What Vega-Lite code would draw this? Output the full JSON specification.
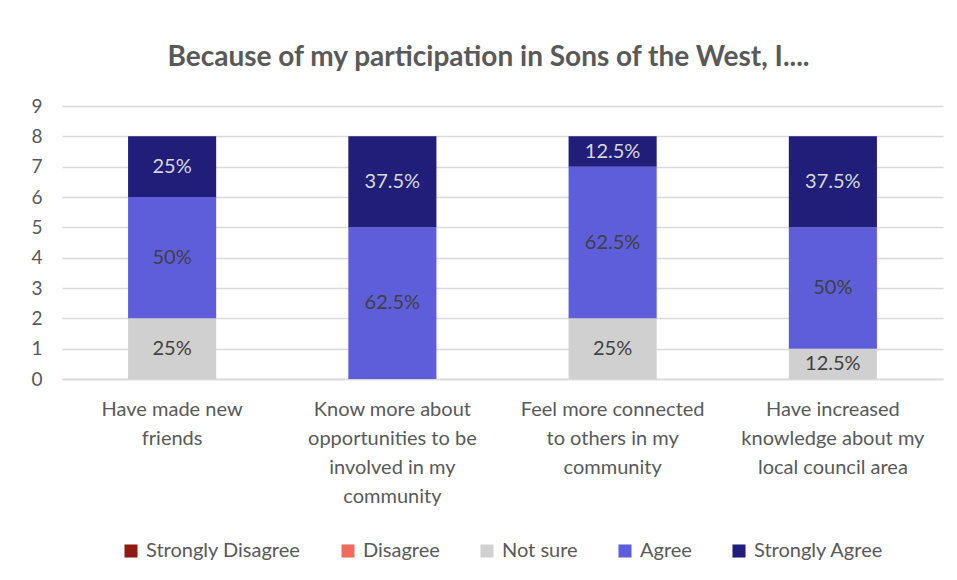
{
  "$schema": "https://vega.github.io/schema/vega-lite/v6.json",
  "autosize": {"type": "none"},
  "width": 881,
  "height": 273,
  "padding": {"left": 62, "top": 106, "right": 14, "bottom": 201},
  "background": "white",
  "title": {
    "text": "Because of my participation in Sons of the West, I....",
    "font": "Lato",
    "fontSize": 28,
    "fontWeight": "bold",
    "color": "#595959",
    "anchor": "middle",
    "dx": -14,
    "offset": 25
  },
  "config": {
    "font": "Lato",
    "view": {"stroke": null},
    "legend": {"layout": {"bottom": {"anchor": "middle"}}},
    "axisY": {
      "title": null,
      "values": [0, 1, 2, 3, 4, 5, 6, 7, 8, 9],
      "labelOverlap": false,
      "labelFontSize": 19,
      "labelColor": "#595959",
      "labelPadding": 20,
      "ticks": false,
      "domain": false,
      "gridColor": "#D9D9D9",
      "gridWidth": 1.5
    }
  },
  "data": {
    "values": [
      {"statement": "Have made new friends", "response": "Not sure", "order": 3, "count": 2, "label": "25%"},
      {"statement": "Have made new friends", "response": "Agree", "order": 4, "count": 4, "label": "50%"},
      {"statement": "Have made new friends", "response": "Strongly Agree", "order": 5, "count": 2, "label": "25%"},
      {"statement": "Know more about opportunities to be involved in my community", "response": "Agree", "order": 4, "count": 5, "label": "62.5%"},
      {"statement": "Know more about opportunities to be involved in my community", "response": "Strongly Agree", "order": 5, "count": 3, "label": "37.5%"},
      {"statement": "Feel more connected to others in my community", "response": "Not sure", "order": 3, "count": 2, "label": "25%"},
      {"statement": "Feel more connected to others in my community", "response": "Agree", "order": 4, "count": 5, "label": "62.5%"},
      {"statement": "Feel more connected to others in my community", "response": "Strongly Agree", "order": 5, "count": 1, "label": "12.5%"},
      {"statement": "Have increased knowledge about my local council area", "response": "Not sure", "order": 3, "count": 1, "label": "12.5%"},
      {"statement": "Have increased knowledge about my local council area", "response": "Agree", "order": 4, "count": 4, "label": "50%"},
      {"statement": "Have increased knowledge about my local council area", "response": "Strongly Agree", "order": 5, "count": 3, "label": "37.5%"}
    ]
  },
  "transform": [
    {"stack": "count", "groupby": ["statement"], "sort": [{"field": "order", "order": "ascending"}], "as": ["y0", "y1"]},
    {"calculate": "(datum.y0 + datum.y1) / 2", "as": "ymid"}
  ],
  "encoding": {
    "x": {
      "field": "statement",
      "type": "nominal",
      "sort": null,
      "scale": {"paddingInner": 0.6, "paddingOuter": 0.3},
      "axis": {
        "title": null,
        "labelAngle": 0,
        "labelFontSize": 20,
        "labelLimit": 300,
        "labelColor": "#595959",
        "labelLineHeight": 29,
        "labelPadding": 20,
        "labelBaseline": "top",
        "ticks": false,
        "domainColor": "#D9D9D9",
        "domainWidth": 1.5,
        "labelExpr": "datum.value == 'Have made new friends' ? ['Have made new', 'friends'] : datum.value == 'Know more about opportunities to be involved in my community' ? ['Know more about', 'opportunities to be', 'involved in my', 'community'] : datum.value == 'Feel more connected to others in my community' ? ['Feel more connected', 'to others in my', 'community'] : ['Have increased', 'knowledge about my', 'local council area']"
      }
    }
  },
  "layer": [
    {
      "mark": {"type": "bar"},
      "encoding": {
        "y": {
          "field": "y0",
          "type": "quantitative",
          "scale": {"domain": [0, 9]}
        },
        "y2": {"field": "y1"},
        "color": {
          "field": "response",
          "type": "nominal",
          "scale": {
            "domain": ["Strongly Disagree", "Disagree", "Not sure", "Agree", "Strongly Agree"],
            "range": ["#8E1B14", "#F06B5E", "#D0D0D0", "#5E5EDA", "#201E78"]
          },
          "legend": {
            "title": null,
            "orient": "bottom",
            "direction": "horizontal",
            "symbolType": "square",
            "symbolSize": 170,
            "symbolStrokeWidth": 0,
            "labelFontSize": 20,
            "labelColor": "#595959",
            "columnPadding": 37,
            "labelOffset": 5,
            "offset": 35
          }
        }
      }
    },
    {
      "mark": {"type": "text", "fontSize": 20, "baseline": "middle"},
      "encoding": {
        "y": {"field": "ymid", "type": "quantitative"},
        "text": {"field": "label"},
        "color": {
          "condition": {"test": "datum.response == 'Strongly Agree'", "value": "#D9D9D9"},
          "value": "#404040"
        }
      }
    }
  ]
}
